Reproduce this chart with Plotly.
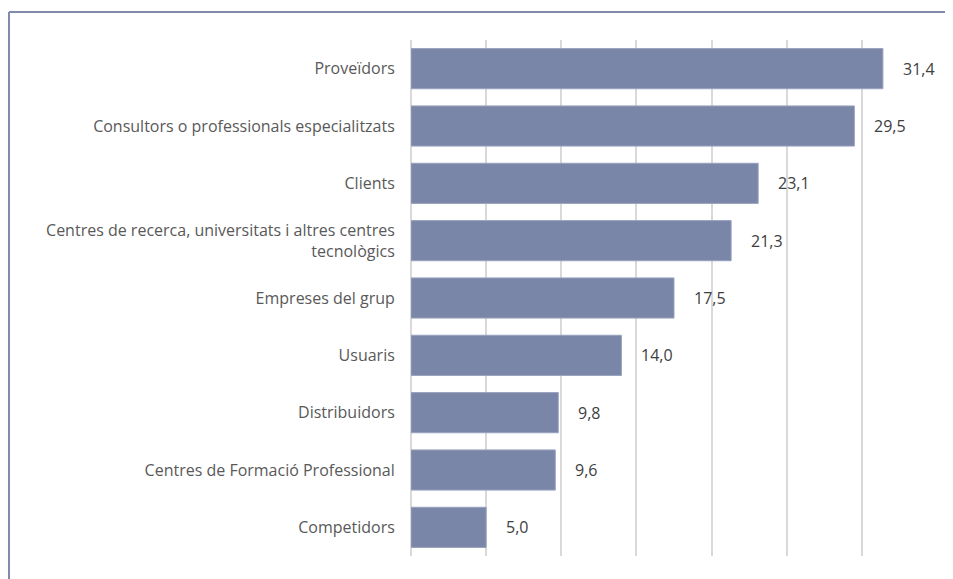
import plotly.graph_objects as go

categories = [
    "Proveïdors",
    "Consultors o professionals especialitzats",
    "Clients",
    "Centres de recerca, universitats i altres centres<br>tecnològics",
    "Empreses del grup",
    "Usuaris",
    "Distribuidors",
    "Centres de Formació Professional",
    "Competidors",
]
values = [31.4, 29.5, 23.1, 21.3, 17.5, 14.0, 9.8, 9.6, 5.0]
value_labels = [f"{v:.1f}".replace(".", ",") for v in values]

FONT = "Open Sans"
BAR = "#7A86A8"
BORDER = "#7F8AAD"

# figure is placed at (8, 8) in the page by the default body margin
W, H = 945, 571
L, R, T, B = 403, 16, 32, 23
PW = W - L - R
PH = H - T - B

def px_to_paper_x(px):
    return (px - L) / PW

def px_to_paper_y(py):
    return 1 - (py - T) / PH

fig = go.Figure()
fig.add_trace(go.Bar(
    y=categories,
    x=values,
    orientation="h",
    marker=dict(color=BAR, line=dict(color="#98A1BE", width=1)),
    hoverinfo="skip",
))

annotations = []
for c, v, t in zip(categories, values, value_labels):
    annotations.append(dict(
        x=v, y=c, xref="x", yref="y", text=t, showarrow=False,
        xanchor="left", yanchor="middle", xshift=18,
        font=dict(family=FONT, size=16, color="#404040"),
    ))

fig.update_layout(
    width=W, height=H,
    margin=dict(l=L, r=R, t=T, b=B),
    paper_bgcolor="white", plot_bgcolor="white",
    bargap=0.30,
    showlegend=False,
    annotations=annotations,
    font=dict(family=FONT, size=16, color="#595959"),
    xaxis=dict(
        range=[0, 35], dtick=5, showticklabels=False,
        showgrid=True, gridcolor="#D9D9D9", gridwidth=1.5,
        zeroline=True, zerolinecolor="#D9D9D9", zerolinewidth=1.5,
        showline=False, fixedrange=True,
    ),
    yaxis=dict(
        autorange="reversed", showgrid=False, zeroline=False, showline=False,
        ticks="outside", ticklen=12, tickcolor="rgba(0,0,0,0)",
        tickfont=dict(family=FONT, size=16, color="#595959"),
        fixedrange=True,
    ),
    shapes=[
        dict(type="line", xref="paper", yref="paper",
             x0=px_to_paper_x(1), x1=px_to_paper_x(W + 10),
             y0=px_to_paper_y(4), y1=px_to_paper_y(4),
             line=dict(color=BORDER, width=2)),
        dict(type="line", xref="paper", yref="paper",
             x0=px_to_paper_x(1), x1=px_to_paper_x(1),
             y0=px_to_paper_y(4), y1=px_to_paper_y(H + 10),
             line=dict(color=BORDER, width=2)),
    ],
)

fig.write_html("out.html")
